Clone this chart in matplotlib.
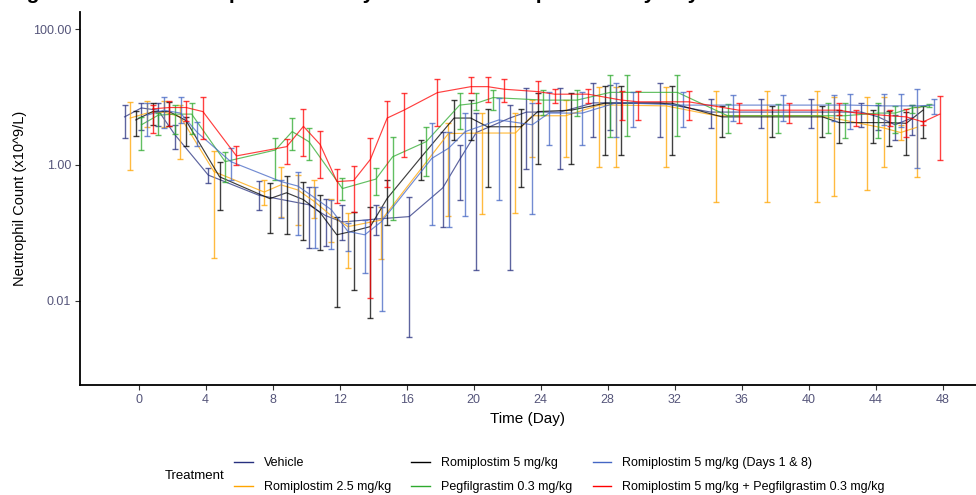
import numpy as np
import matplotlib.pyplot as plt
from matplotlib.lines import Line2D

plt.rcParams['font.family'] = ['Liberation Sans', 'DejaVu Sans']

# mean neutrophil count (x10^9/L) with lower / upper error limits, per group
vehicle_day = [0, 1, 2, 3, 5, 8, 11, 12, 13, 15, 17, 19, 20, 21, 23, 24, 26, 28, 29, 32, 35, 38, 41, 44, 45, 46, 47]
vehicle_mean = [5.1, 6.9, 6.4, 2.8, 0.71, 0.36, 0.26, 0.18, 0.145, 0.16, 0.174, 0.46, 1.19, 3.0, 4.9, 6.0, 6.0,
                8.2, 8.2, 8.2, 6.0, 6.0, 6.0, 6.0, 5.1, 3.9, 4.9]
vehicle_lo = [2.5, 3.3, 3.8, 1.7, 0.55, 0.22, 0.061, 0.065, 0.079, 0.094, 0.0029, 0.124, 0.31, 0.029, 0.029, 0.86,
              0.86, 2.55, 3.3, 2.55, 3.46, 3.46, 3.46, 3.65, 3.3, 2.3, 2.8]
vehicle_hi = [7.6, 8.2, 8.1, 3.9, 0.89, 0.58, 0.47, 0.32, 0.26, 0.26, 0.34, 3.1, 2.0, 5.9, 7.6, 13.4, 13.4, 16.2,
              15.0, 16.2, 9.3, 9.3, 9.3, 8.2, 7.6, 5.4, 7.6]

rom25_day = [0, 1, 2, 3, 5, 8, 9, 10, 11, 12, 13, 15, 19, 21, 23, 24, 26, 28, 29, 32, 35, 38, 41, 42, 44, 45, 46, 47]
rom25_mean = [4.9, 5.8, 6.0, 5.1, 0.80, 0.40, 0.51, 0.43, 0.29, 0.18, 0.124, 0.155, 2.9, 2.95, 2.95, 5.3, 5.3, 7.6,
              7.6, 7.4, 5.3, 5.3, 5.3, 4.9, 3.9, 3.5, 3.0, 3.6]
rom25_lo = [0.84, 3.65, 3.65, 1.22, 0.043, 0.26, 0.174, 0.131, 0.164, 0.074, 0.031, 0.042, 0.18, 0.19, 0.195, 1.32,
            1.32, 0.94, 0.94, 0.94, 0.29, 0.29, 0.29, 0.35, 0.43, 0.94, 2.3, 0.67]
rom25_hi = [8.5, 8.8, 8.8, 7.6, 1.62, 0.60, 0.94, 0.71, 0.60, 0.32, 0.195, 0.24, 4.1, 5.9, 5.75, 9.0, 9.0, 14.2, 14.2,
            14.2, 12.3, 12.3, 12.3, 9.9, 10.1, 10.1, 3.9, 7.1]

rom5_day = [0, 1, 2, 3, 5, 8, 9, 10, 11, 12, 13, 14, 15, 17, 19, 20, 21, 23, 24, 26, 28, 29, 32, 35, 38, 41, 42, 44,
            45, 46, 47]
rom5_mean = [4.6, 6.1, 6.1, 4.5, 0.67, 0.32, 0.39, 0.31, 0.20, 0.094, 0.107, 0.124, 0.32, 1.27, 4.9, 4.9, 3.65, 3.65,
             6.1, 6.4, 8.1, 8.1, 8.1, 5.1, 5.1, 5.1, 4.2, 4.2, 4.2, 4.1, 6.4]
rom5_lo = [2.7, 3.9, 3.7, 1.92, 0.22, 0.099, 0.096, 0.079, 0.056, 0.0082, 0.0145, 0.0056, 0.13, 0.60, 2.3, 2.3, 0.48,
           0.48, 1.02, 1.02, 1.40, 1.40, 1.40, 2.55, 2.55, 2.55, 2.1, 2.1, 1.92, 1.40, 2.5]
rom5_hi = [6.3, 8.2, 8.5, 5.1, 1.12, 0.54, 0.70, 0.56, 0.36, 0.174, 0.20, 0.24, 0.60, 2.3, 9.0, 9.0, 6.7, 6.7, 11.3,
           11.3, 14.7, 14.7, 14.5, 7.4, 7.4, 7.4, 6.4, 6.4, 6.3, 6.1, 7.4]

peg_day = [0, 1, 2, 3, 5, 8, 9, 10, 12, 14, 15, 17, 19, 20, 21, 24, 26, 28, 29, 32, 35, 38, 41, 42, 44, 45, 46, 47]
peg_mean = [3.9, 5.4, 5.6, 5.6, 1.12, 1.66, 3.1, 2.2, 0.45, 0.62, 1.32, 2.2, 7.6, 8.1, 9.8, 9.0, 9.0, 11.7, 11.7,
            11.7, 5.3, 5.3, 5.3, 5.3, 5.8, 5.8, 6.9, 7.4]
peg_lo = [1.66, 2.8, 2.85, 2.9, 0.57, 0.60, 1.66, 1.19, 0.31, 0.36, 0.155, 0.69, 3.35, 6.4, 6.4, 5.4, 5.3, 2.6, 2.7,
          2.7, 3.0, 3.0, 3.0, 2.5, 2.5, 3.0, 5.8, 7.1]
peg_hi = [5.1, 5.8, 7.6, 8.1, 1.57, 2.5, 4.9, 3.5, 0.64, 0.90, 2.6, 3.6, 11.3, 11.4, 12.7, 12.7, 12.7, 21.1, 21.1,
          21.1, 7.8, 7.8, 8.2, 8.1, 8.1, 7.4, 7.6, 7.9]

rom5d18_day = [0, 1, 2, 3, 5, 8, 9, 10, 11, 12, 13, 14, 17, 18, 19, 21, 23, 24, 26, 28, 29, 32, 35, 38, 41, 42, 44,
               45, 46, 47]
rom5d18_mean = [5.4, 6.4, 5.8, 3.0, 1.12, 0.57, 0.49, 0.33, 0.22, 0.105, 0.094, 0.147, 1.25, 1.76, 3.1, 4.6, 3.9,
                5.8, 5.8, 8.2, 8.1, 7.6, 7.6, 7.6, 7.6, 7.6, 7.4, 7.4, 7.4, 7.6]
rom5d18_lo = [2.67, 3.46, 4.1, 1.9, 0.60, 0.164, 0.094, 0.061, 0.058, 0.054, 0.026, 0.0072, 0.131, 0.124, 0.18, 0.31,
              0.19, 1.97, 1.97, 2.55, 3.6, 3.6, 4.4, 4.4, 4.4, 3.35, 3.9, 3.6, 0.89, 5.6]
rom5d18_hi = [8.1, 9.9, 9.9, 4.3, 1.8, 0.60, 0.80, 0.48, 0.31, 0.139, 0.155, 0.244, 4.1, 3.1, 5.9, 9.6, 8.1, 12.0,
              12.0, 16.2, 12.0, 12.0, 10.7, 10.7, 10.7, 11.0, 11.0, 11.0, 13.0, 9.3]

combo_day = [0, 1, 2, 3, 5, 8, 9, 10, 11, 12, 13, 14, 15, 17, 19, 20, 21, 23, 24, 26, 28, 29, 32, 35, 38, 41, 42, 44,
             45, 46, 47]
combo_mean = [6.7, 7.0, 7.0, 6.1, 1.36, 1.86, 3.7, 2.0, 0.57, 0.59, 1.21, 4.9, 6.4, 11.6, 14.2, 14.2, 13.0, 12.0,
              11.0, 11.0, 9.0, 8.5, 8.5, 6.4, 6.4, 6.4, 5.8, 5.3, 5.1, 4.3, 5.6]
combo_lo = [3.0, 3.8, 4.4, 2.4, 1.0, 1.03, 1.36, 0.65, 0.28, 0.20, 0.011, 0.48, 1.30, 3.8, 11.3, 8.4, 8.4, 8.1, 8.1,
            8.1, 4.6, 4.6, 4.6, 4.1, 4.1, 5.4, 3.7, 3.7, 2.6, 3.9, 1.19]
combo_hi = [7.6, 8.8, 8.8, 9.9, 1.92, 2.4, 6.6, 3.2, 0.86, 0.98, 2.5, 8.8, 11.3, 18.4, 19.5, 19.5, 18.2, 17.4, 13.1,
            13.1, 12.3, 12.3, 12.3, 8.2, 8.2, 8.2, 6.4, 6.4, 6.6, 4.4, 10.3]

labels = ['Vehicle', 'Romiplostim 2.5 mg/kg', 'Romiplostim 5 mg/kg', 'Pegfilgrastim 0.3 mg/kg',
          'Romiplostim 5 mg/kg (Days 1 & 8)', 'Romiplostim 5 mg/kg + Pegfilgrastim 0.3 mg/kg']
colors = ['#27307f', '#ffa500', '#000000', '#2eaa2e', '#4466c4', '#ff0000']
groups = [
    (vehicle_day, vehicle_mean, vehicle_lo, vehicle_hi),
    (rom25_day, rom25_mean, rom25_lo, rom25_hi),
    (rom5_day, rom5_mean, rom5_lo, rom5_hi),
    (peg_day, peg_mean, peg_lo, peg_hi),
    (rom5d18_day, rom5d18_mean, rom5d18_lo, rom5d18_hi),
    (combo_day, combo_mean, combo_lo, combo_hi),
]

fig = plt.figure(figsize=(9.76, 4.95), dpi=100)
ax = fig.add_axes([80 / 976, 110 / 495, 896 / 976, 373 / 495])

# dodge the groups sideways so the error bars don't sit on top of each other
offsets = np.linspace(-0.84, 0.84, len(groups))
for (day, mean, lo, hi), color, dx in zip(groups, colors, offsets):
    x = np.array(day) + dx
    m = np.array(mean)
    yerr = [m - np.array(lo), np.array(hi) - m]
    ax.plot(x, m, color=color, lw=0.85, alpha=0.75)
    ax.errorbar(x, m, yerr=yerr, fmt='none', ecolor=color, elinewidth=1.0,
                capsize=2.2, capthick=1.0, alpha=0.75)

ax.set_yscale('log')
ax.set_ylim(0.00058, 178)
ax.set_xlim(-3.5, 50)
ax.set_yticks([0.01, 1, 100])
ax.set_yticklabels(['0.01', '1.00', '100.00'])
ax.minorticks_off()
ax.set_xticks(range(0, 49, 4))

for side in ['top', 'right']:
    ax.spines[side].set_visible(False)
for side in ['left', 'bottom']:
    ax.spines[side].set_linewidth(1.3)
ax.tick_params(axis='both', length=3.5, width=0.8, color='#333333',
               labelcolor='#55557a', labelsize=9, pad=3)

ax.set_xlabel('Time (Day)', fontsize=11, labelpad=4)
ax.set_ylabel('Neutrophil Count (x10^9/L)', fontsize=10.5, labelpad=4)

# page title sits above the top edge; only its lower part shows
fig.text(0.008, 1.003, 'Figure 1: Mean Neutrophil Counts by Treatment Group and Study Day',
         fontsize=15, fontweight='bold', va='baseline')

handles = [Line2D([], [], color=c, lw=1.0) for c in colors]
fig.legend(handles, labels, ncol=3, loc='upper left', bbox_to_anchor=(234 / 976, 1 - 457 / 495),
           frameon=False, fontsize=9, handlelength=1.5, handletextpad=0.9, columnspacing=1.6,
           labelspacing=0.95, borderpad=0, borderaxespad=0)
fig.text(165 / 976, 1 - 476 / 495, 'Treatment', fontsize=9.5, va='center')

fig.savefig('out.png', dpi=100)
